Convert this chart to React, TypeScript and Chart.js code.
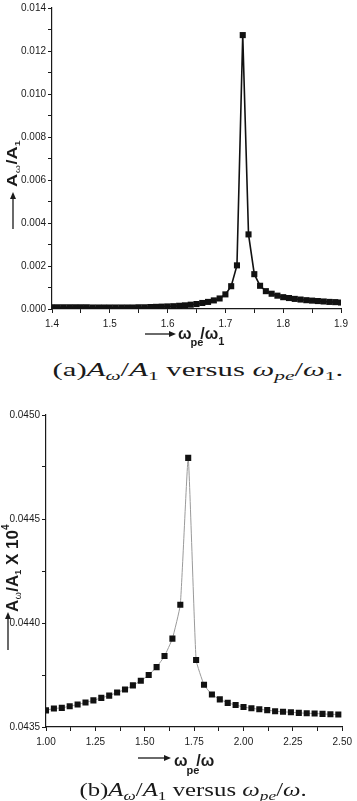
import React, { useEffect, useLayoutEffect, useRef } from "react";
import { Chart, registerables } from "chart.js";
Chart.register(...registerables);

// ---------- Chart (a) data ----------
const xA = [
  1.40, 1.41, 1.42, 1.43, 1.44, 1.45, 1.46, 1.47, 1.48, 1.49,
  1.50, 1.51, 1.52, 1.53, 1.54, 1.55, 1.56, 1.57, 1.58, 1.59,
  1.60, 1.61, 1.62, 1.63, 1.64, 1.65, 1.66, 1.67, 1.68, 1.69,
  1.70, 1.71, 1.72, 1.73, 1.74, 1.75, 1.76, 1.77, 1.78, 1.79,
  1.80, 1.81, 1.82, 1.83, 1.84, 1.85, 1.86, 1.87, 1.88, 1.89, 1.90,
];
const yA = [
  0.00008, 0.00008, 0.00008, 0.00008, 0.00008, 0.00008, 0.00008, 0.00007, 0.00007, 0.00007,
  0.00007, 0.00007, 0.00007, 0.00007, 0.00007, 0.00008, 0.00008, 0.00009, 0.0001, 0.00011,
  0.00012, 0.00013, 0.00015, 0.00017, 0.0002, 0.00023, 0.00028, 0.00033, 0.0004, 0.00049,
  0.00068, 0.00106, 0.00203, 0.01274, 0.00347, 0.00162, 0.00108, 0.00083, 0.00071, 0.00062,
  0.00055, 0.00051, 0.00047, 0.00044, 0.00041, 0.00039, 0.00037, 0.00035, 0.00033, 0.00032, 0.0003,
];
const xTicksA = [1.4, 1.45, 1.5, 1.55, 1.6, 1.65, 1.7, 1.75, 1.8, 1.85, 1.9];
const yTicksA = [0, 0.001, 0.002, 0.003, 0.004, 0.005, 0.006, 0.007, 0.008, 0.009, 0.01, 0.011, 0.012, 0.013, 0.014];

// ---------- Chart (b) data ----------
const xB = [
  1.00, 1.04, 1.08, 1.12, 1.16, 1.20, 1.24, 1.28, 1.32, 1.36,
  1.40, 1.44, 1.48, 1.52, 1.56, 1.60, 1.64, 1.68, 1.72, 1.76,
  1.80, 1.84, 1.88, 1.92, 1.96, 2.00, 2.04, 2.08, 2.12, 2.16,
  2.20, 2.24, 2.28, 2.32, 2.36, 2.40, 2.44, 2.48,
];
const yB = [
  0.04358, 0.043589, 0.043592, 0.0436, 0.043608, 0.043618, 0.043628, 0.04364, 0.043651, 0.043666,
  0.04368, 0.0437, 0.043722, 0.04375, 0.043788, 0.043841, 0.043925, 0.044088, 0.044794, 0.043822,
  0.043703, 0.043656, 0.043633, 0.043616, 0.043606, 0.043596, 0.04359, 0.043585, 0.043581, 0.043576,
  0.043573, 0.043571, 0.043568, 0.043566, 0.043565, 0.043563, 0.043561, 0.04356,
];
const xTicksB = [1.0, 1.125, 1.25, 1.375, 1.5, 1.625, 1.75, 1.875, 2.0, 2.125, 2.25, 2.375, 2.5];
const yTicksB = [0.0435, 0.04375, 0.044, 0.04425, 0.0445, 0.04475, 0.045];

const TICK_FONT = "'Liberation Sans Narrow', 'Liberation Sans', Arial, sans-serif";
const TITLE_FONT = "'Liberation Sans', Arial, sans-serif";

type Seg = { t: string; size: number; bold?: boolean; dy?: number; dx?: number };

function drawRich(ctx: CanvasRenderingContext2D, ox: number, oy: number, angle: number, segs: Seg[], sx = 1) {
  ctx.save();
  ctx.translate(ox, oy);
  ctx.rotate(angle);
  ctx.scale(sx, 1);
  ctx.fillStyle = "#1a1a1a";
  ctx.textBaseline = "alphabetic";
  ctx.textAlign = "left";
  let x = 0;
  for (const s of segs) {
    ctx.font = `${s.bold ? "bold " : ""}${s.size}px ${TITLE_FONT}`;
    x += s.dx || 0;
    ctx.fillText(s.t, x, s.dy || 0);
    x += ctx.measureText(s.t).width;
  }
  ctx.restore();
}

function drawArrow(ctx: CanvasRenderingContext2D, x1: number, y1: number, x2: number, y2: number) {
  const ang = Math.atan2(y2 - y1, x2 - x1);
  const head = 7;
  ctx.save();
  ctx.strokeStyle = "#1a1a1a";
  ctx.fillStyle = "#1a1a1a";
  ctx.lineWidth = 1.3;
  ctx.beginPath();
  ctx.moveTo(x1, y1);
  ctx.lineTo(x2 - Math.cos(ang) * head * 0.8, y2 - Math.sin(ang) * head * 0.8);
  ctx.stroke();
  ctx.beginPath();
  ctx.moveTo(x2, y2);
  ctx.lineTo(x2 - head * Math.cos(ang) + 3 * Math.sin(ang), y2 - head * Math.sin(ang) - 3 * Math.cos(ang));
  ctx.lineTo(x2 - head * Math.cos(ang) - 3 * Math.sin(ang), y2 - head * Math.sin(ang) + 3 * Math.cos(ang));
  ctx.closePath();
  ctx.fill();
  ctx.restore();
}

function axisOpts(ticksArr: number[], fmt: (v: number, i: number) => string, fitSize: number, isY: boolean, min: number, max: number) {
  return {
    type: "linear" as const,
    min,
    max,
    afterBuildTicks: (scale: any) => {
      scale.ticks = ticksArr.map((v) => ({ value: v }));
    },
    afterFit: (scale: any) => {
      if (isY) scale.width = fitSize;
      else scale.height = fitSize;
    },
    grid: {
      display: true,
      drawOnChartArea: false,
      drawTicks: true,
      tickLength: 4,
      tickColor: "#1a1a1a",
      tickWidth: 1,
    },
    border: { display: true, color: "#1a1a1a", width: 1.2 },
    ticks: {
      autoSkip: false,
      maxRotation: 0,
      minRotation: 0,
      padding: isY ? 2 : 5,
      color: "#1a1a1a",
      font: { family: TICK_FONT, size: 10 },
      callback: (v: any, i: number) => fmt(Number(v), i),
    },
  };
}

function ChartA() {
  const ref = useRef<HTMLCanvasElement | null>(null);
  useEffect(() => {
    if (!ref.current) return;
    const titles = {
      id: "titlesA",
      afterDraw(chart: any) {
        const ctx = chart.ctx as CanvasRenderingContext2D;
        drawArrow(ctx, 13, 229, 13, 192);
        drawRich(ctx, 17, 187, -Math.PI / 2, [
          { t: "A", size: 14, bold: true },
          { t: "ω", size: 8, dy: 2.5, dx: 0.5 },
          { t: "/A", size: 14, bold: true, dx: 0.5 },
          { t: "1", size: 8, bold: true, dy: 2.5 },
        ], 1.3);
        drawArrow(ctx, 145, 334, 176, 334);
        drawRich(ctx, 178, 339, 0, [
          { t: "ω", size: 16, bold: true },
          { t: "pe", size: 11, bold: true, dy: 7, dx: -1 },
          { t: "/ω", size: 16, bold: true, dx: -3 },
          { t: "1", size: 11, bold: true, dy: 6 },
        ]);
      },
    };
    const chart = new Chart(ref.current, {
      type: "line",
      data: {
        datasets: [
          {
            data: xA.map((x, i) => ({ x, y: yA[i] })),
            borderColor: "#111",
            borderWidth: 1.6,
            pointStyle: "rect",
            pointRadius: 4.3,
            pointBorderWidth: 0,
            pointBackgroundColor: "#111",
            tension: 0,
          },
        ],
      },
      options: {
        animation: false,
        responsive: false,
        devicePixelRatio: 1,
        layout: { padding: { top: 6, right: 16, left: 0, bottom: 0 } },
        plugins: { legend: { display: false }, tooltip: { enabled: false } },
        scales: {
          x: axisOpts(xTicksA, (v, i) => (i % 2 === 0 ? v.toFixed(1) : ""), 39, false, 1.4, 1.9),
          y: axisOpts(yTicksA, (v, i) => (i % 2 === 0 ? v.toFixed(3) : ""), 52, true, 0, 0.014),
        },
      },
      plugins: [titles],
    } as any);
    return () => chart.destroy();
  }, []);
  return <canvas ref={ref} width={357} height={348} style={{ position: "absolute", left: 0, top: 0 }} />;
}

function ChartB() {
  const ref = useRef<HTMLCanvasElement | null>(null);
  useEffect(() => {
    if (!ref.current) return;
    const titles = {
      id: "titlesB",
      afterDraw(chart: any) {
        const ctx = chart.ctx as CanvasRenderingContext2D;
        drawArrow(ctx, 8, 255, 8, 217);
        drawRich(ctx, 18, 217, -Math.PI / 2, [
          { t: "A", size: 17, bold: true },
          { t: "ω", size: 9, dy: 3, dx: 0.5 },
          { t: "/A", size: 17, bold: true, dx: 0.5 },
          { t: "1", size: 9, bold: true, dy: 3 },
          { t: " X 10", size: 17, bold: true },
          { t: "4", size: 10, bold: true, dy: -9 },
        ]);
        drawArrow(ctx, 138, 363, 171, 363);
        drawRich(ctx, 174, 371, 0, [
          { t: "ω", size: 16, bold: true },
          { t: "pe", size: 11, bold: true, dy: 8, dx: -1 },
          { t: "/ω", size: 16, bold: true, dx: -3 },
        ]);
      },
    };
    const chart = new Chart(ref.current, {
      type: "line",
      data: {
        datasets: [
          {
            data: xB.map((x, i) => ({ x, y: yB[i] })),
            borderColor: "#9a9a9a",
            borderWidth: 1,
            pointStyle: "rect",
            pointRadius: 4.3,
            pointBorderWidth: 0,
            pointBackgroundColor: "#111",
            tension: 0.12,
          },
        ],
      },
      options: {
        animation: false,
        responsive: false,
        devicePixelRatio: 1,
        layout: { padding: { top: 20, right: 9, left: 0, bottom: 0 } },
        plugins: { legend: { display: false }, tooltip: { enabled: false } },
        scales: {
          x: axisOpts(xTicksB, (v, i) => (i % 2 === 0 ? v.toFixed(2) : ""), 53, false, 1.0, 2.5),
          y: axisOpts(yTicksB, (v, i) => (i % 2 === 0 ? v.toFixed(4) : ""), 46, true, 0.0435, 0.045),
        },
      },
      plugins: [titles],
    } as any);
    return () => chart.destroy();
  }, []);
  return <canvas ref={ref} width={357} height={385} style={{ position: "absolute", left: 0, top: 395 }} />;
}

const subStyle: React.CSSProperties = { fontSize: "0.7em", verticalAlign: "-0.3em", lineHeight: 0 };

function Caption({ centerX, top, width, children }: { centerX: number; top: number; width: number; children: React.ReactNode }) {
  const ref = useRef<HTMLSpanElement | null>(null);
  useLayoutEffect(() => {
    const el = ref.current;
    if (!el) return;
    el.style.transform = "none";
    const w = el.offsetWidth;
    if (w > 0) el.style.transform = `scaleX(${width / w})`;
  }, [width]);
  return (
    <div style={{ position: "absolute", left: centerX - 200, width: 400, top, textAlign: "center" }}>
      <span
        ref={ref}
        style={{
          display: "inline-block",
          transformOrigin: "50% 50%",
          fontFamily: "'Liberation Serif', 'DejaVu Serif', serif",
          fontSize: 19,
          color: "#1a1a1a",
          whiteSpace: "nowrap",
          lineHeight: "22px",
        }}
      >
        {children}
      </span>
    </div>
  );
}

export default function App() {
  return (
    <div style={{ position: "absolute", left: 0, top: 0, width: 357, height: 801, background: "#fff", overflow: "hidden" }}>
      <ChartA />
      <Caption centerX={197.5} top={359} width={291}>
        (a)<i>A</i><sub style={subStyle}><i>ω</i></sub>/<i>A</i><sub style={subStyle}>1</sub> versus{" "}
        <i>ω</i><sub style={subStyle}><i>pe</i></sub>/<i>ω</i><sub style={subStyle}>1</sub>.
      </Caption>
      <ChartB />
      <Caption centerX={193.5} top={779} width={227}>
        (b)<i>A</i><sub style={subStyle}><i>ω</i></sub>/<i>A</i><sub style={subStyle}>1</sub> versus{" "}
        <i>ω</i><sub style={subStyle}><i>pe</i></sub>/<i>ω</i>.
      </Caption>
    </div>
  );
}
